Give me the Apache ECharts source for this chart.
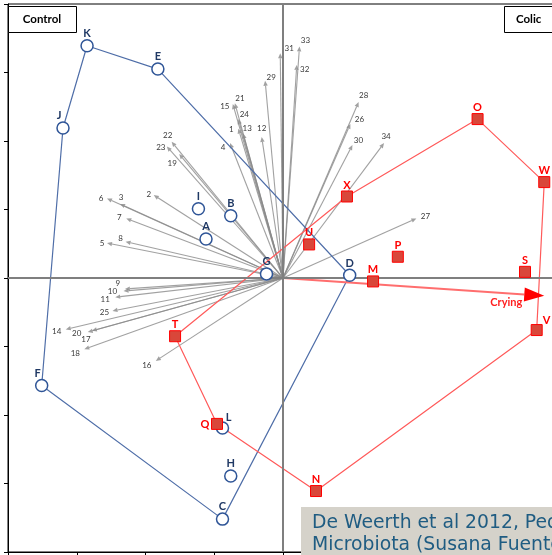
<!DOCTYPE html>
<html><head><meta charset="utf-8">
<script src="https://cdn.jsdelivr.net/npm/echarts@6/dist/echarts.min.js"></script>
<style>html,body{margin:0;padding:0;background:#fff;overflow:hidden}#chart{width:560px;height:555px}</style>
</head><body><div id="chart"></div>
<script>
// Infant samples on the first two ordination axes
const controlNames = ['K','E','J','I','B','A','G','D','F','L','H','C'];
const controlX = [-2.85,-1.82,-3.20,-1.23,-0.76,-1.12,-0.24,0.97,-3.51,-0.88,-0.76,-0.88];
const controlY = [3.39,3.05,2.19,1.01,0.91,0.57,0.06,0.04,-1.57,-2.19,-2.89,-3.52];
const colicNames = ['O','W','X','U','P','S','M','V','T','Q','N'];
const colicX = [2.83,3.80,0.93,0.38,1.67,3.52,1.31,3.69,-1.57,-0.96,0.48];
const colicY = [2.32,1.40,1.19,0.49,0.31,0.09,-0.05,-0.76,-0.85,-2.13,-3.11];

// Outline of each group, as sample names in drawing order
const controlHull = ['K','E','D','C','F','J','K'];
const colicHull = ['T','X','O','W','V','N','Q','T'];

// Microbial group loadings, drawn as arrows from the origin
const varNames = ['1','2','3','4','5','6','7','8','9','10','11','12','13','14','15','16','17',
  '18','19','20','21','22','23','24','25','26','27','28','29','30','31','32','33','34'];
const varX = [-0.65,-1.88,-2.37,-0.77,-2.56,-2.56,-2.28,-2.29,-2.30,-2.32,-2.44,-0.31,-0.58,-3.16,
  -0.73,-1.85,-2.78,-2.89,-1.51,-2.84,-0.70,-1.62,-1.69,-0.65,-2.48,0.98,1.94,1.10,-0.26,1.01,
  -0.04,0.20,0.24,1.47];
const varY = [2.18,1.21,1.08,1.97,0.51,1.16,0.87,0.53,-0.16,-0.19,-0.28,2.06,2.11,-0.75,
  2.54,-1.21,-0.77,-1.04,1.81,-0.79,2.55,1.99,1.92,2.32,-0.48,2.25,0.87,2.57,2.88,1.94,
  3.28,3.11,3.38,1.97];

// Crying score vector
const cryingName = 'Crying';
const cryingX = [3.80];
const cryingY = [-0.26];

// Pixel nudges for the arrow labels, relative to the arrow tip
const varLabelShift = {
  '1':[-7,1],'2':[-5,-1],'3':[1,-7],'4':[-7,4],'5':[-5,0],'6':[-6,0],'7':[-7,-1],'8':[-5,-3],
  '9':[-7,-6],'10':[-11,0],'11':[-10,2],'12':[0,-8],'13':[4,-5],'14':[-9,2],'15':[-8,2],
  '16':[-9,5],'17':[-6,9],'18':[-9,4],'19':[-7,9],'20':[-11,1],'21':[5,-5],'22':[-4,-6],
  '23':[-6,1],'24':[6,-5],'25':[-8,2],'26':[9,-4],'27':[9,-2],'28':[5,-7],'29':[6,-3],
  '30':[6,-5],'31':[9,-5],'32':[8,4],'33':[6,-6],'34':[2,-7]
};
const sampleLabelShift = { J:[-4,0], F:[-4,0], L:[6,2], V:[10,2], Q:[-12,12] };

const FONT = 'Lato, "Liberation Sans", sans-serif';

function pts(names, xs, ys) { return names.map((n, i) => [xs[i], ys[i], n]); }
function hullPts(order, names, xs, ys) {
  return order.map(n => { const i = names.indexOf(n); return [xs[i], ys[i]]; });
}
function sampleData(names, xs, ys) {
  return names.map((n, i) => {
    const d = { name: n, value: [xs[i], ys[i]] };
    if (sampleLabelShift[n]) d.label = { offset: sampleLabelShift[n] };
    return d;
  });
}

function arrowItem(opts) {
  return function (params, api) {
    const p0 = api.coord([0, 0]);
    const p1 = api.coord([api.value(0), api.value(1)]);
    const dx = p1[0] - p0[0], dy = p1[1] - p0[1];
    const L = Math.hypot(dx, dy) || 1;
    const ux = dx / L, uy = dy / L;
    const bx = p1[0] - ux * opts.headLen, by = p1[1] - uy * opts.headLen;
    const name = opts.names[params.dataIndex];
    const sh = opts.shift(name);
    return {
      type: 'group',
      children: [
        { type: 'line', shape: { x1: p0[0], y1: p0[1], x2: bx, y2: by },
          style: { stroke: opts.lineColor, lineWidth: opts.lineWidth, opacity: opts.opacity } },
        { type: 'polygon',
          shape: { points: [[p1[0], p1[1]], [bx - uy * opts.headHalf, by + ux * opts.headHalf],
                            [bx + uy * opts.headHalf, by - ux * opts.headHalf]] },
          style: { fill: opts.headColor, opacity: opts.opacity } },
        { type: 'text', x: p1[0] + sh[0], y: p1[1] + sh[1],
          style: { text: name, fill: opts.textColor, font: opts.font,
                   align: 'center', verticalAlign: 'middle' } }
      ]
    };
  };
}

const chart = echarts.init(document.getElementById('chart'), null, { renderer: 'canvas' });
chart.setOption({
  animation: false,
  backgroundColor: '#fff',
  grid: { left: 8, top: 4, right: 2, bottom: 3, show: true, borderColor: '#000', borderWidth: 1,
          backgroundColor: 'transparent' },
  xAxis: { type: 'value', min: -4, max: 4, interval: 1,
    axisLine: { onZero: false, lineStyle: { color: '#000', width: 1 } },
    axisTick: { show: true, length: 4, lineStyle: { color: '#000' } },
    axisLabel: { show: false }, splitLine: { show: false } },
  yAxis: { type: 'value', min: -4, max: 4, interval: 1,
    axisLine: { onZero: false, lineStyle: { color: '#000', width: 1 } },
    axisTick: { show: true, length: 4, lineStyle: { color: '#000' } },
    axisLabel: { show: false }, splitLine: { show: false } },
  series: [
    { // zero reference lines
      type: 'scatter', data: [], z: 1, silent: true,
      markLine: { silent: true, symbol: 'none', label: { show: false },
        lineStyle: { color: '#7f7f7f', width: 2, type: 'solid' },
        data: [{ xAxis: 0 }, { yAxis: 0 }] }
    },
    { type: 'custom', z: 2, silent: true,
      data: pts(varNames, varX, varY),
      renderItem: arrowItem({ names: varNames, headLen: 5, headHalf: 2.2, lineWidth: 1.1,
        lineColor: '#8a8a8a', headColor: '#8a8a8a', opacity: 0.8, textColor: '#3a3a3a',
        font: '8px ' + FONT, shift: n => varLabelShift[n] || [6, 0] })
    },
    { type: 'line', z: 3, silent: true, symbol: 'none',
      data: hullPts(controlHull, controlNames, controlX, controlY),
      lineStyle: { color: '#4f6ea8', width: 1.2 } },
    { type: 'line', z: 3, silent: true, symbol: 'none',
      data: hullPts(colicHull, colicNames, colicX, colicY),
      lineStyle: { color: '#ff5a5a', width: 1.2 } },
    { type: 'custom', z: 4, silent: true,
      data: pts([cryingName], cryingX, cryingY),
      renderItem: arrowItem({ names: [cryingName], headLen: 20, headHalf: 7, lineWidth: 2,
        lineColor: '#ff6e6e', headColor: '#ff0000', opacity: 1, textColor: '#ff2020',
        font: 'bold 11px ' + FONT, shift: () => [-38, 7] })
    },
    { type: 'scatter', z: 5, silent: true, symbol: 'circle', symbolSize: 12,
      data: sampleData(controlNames, controlX, controlY),
      itemStyle: { color: '#fff', borderColor: '#2f5597', borderWidth: 1.5, opacity: 1 },
      label: { show: true, position: 'top', distance: 0, formatter: p => p.name,
        color: '#1f3864', fontFamily: FONT, fontWeight: 'bold', fontSize: 11 } },
    { type: 'scatter', z: 5, silent: true, symbol: 'rect', symbolSize: 11,
      data: sampleData(colicNames, colicX, colicY),
      itemStyle: { color: '#d9473a', borderColor: '#ff0000', borderWidth: 1, opacity: 1 },
      label: { show: true, position: 'top', distance: 0, formatter: p => p.name,
        color: '#ff0000', fontFamily: FONT, fontWeight: 'bold', fontSize: 11 } }
  ],
  graphic: [
    { type: 'rect', left: 8, top: 6, shape: { width: 68, height: 26 }, z: 10,
      style: { fill: '#fff', stroke: '#000', lineWidth: 1 } },
    { type: 'text', x: 42, y: 19.5, z: 11,
      style: { text: 'Control', font: 'bold 11.5px ' + FONT, fill: '#000', align: 'center', verticalAlign: 'middle' } },
    { type: 'rect', left: 504, top: 6, shape: { width: 70, height: 26 }, z: 10,
      style: { fill: '#fff', stroke: '#000', lineWidth: 1 } },
    { type: 'text', x: 516, y: 19.5, z: 11,
      style: { text: 'Colic', font: 'bold 11.5px ' + FONT, fill: '#000', align: 'left', verticalAlign: 'middle' } },
    { type: 'rect', left: 301, top: 507, shape: { width: 270, height: 50 }, z: 10,
      style: { fill: '#d5d2ca' } },
    { type: 'text', x: 312, y: 523, z: 11,
      style: { text: 'De Weerth et al 2012, Pediatrics', font: '18.8px "DejaVu Sans", sans-serif',
               fill: '#1f5c82', align: 'left', verticalAlign: 'middle' } },
    { type: 'text', x: 312, y: 545.5, z: 11,
      style: { text: 'Microbiota (Susana Fuentes)', font: '18.8px "DejaVu Sans", sans-serif',
               fill: '#1f5c82', align: 'left', verticalAlign: 'middle' } }
  ]
});
</script>
</body></html>
